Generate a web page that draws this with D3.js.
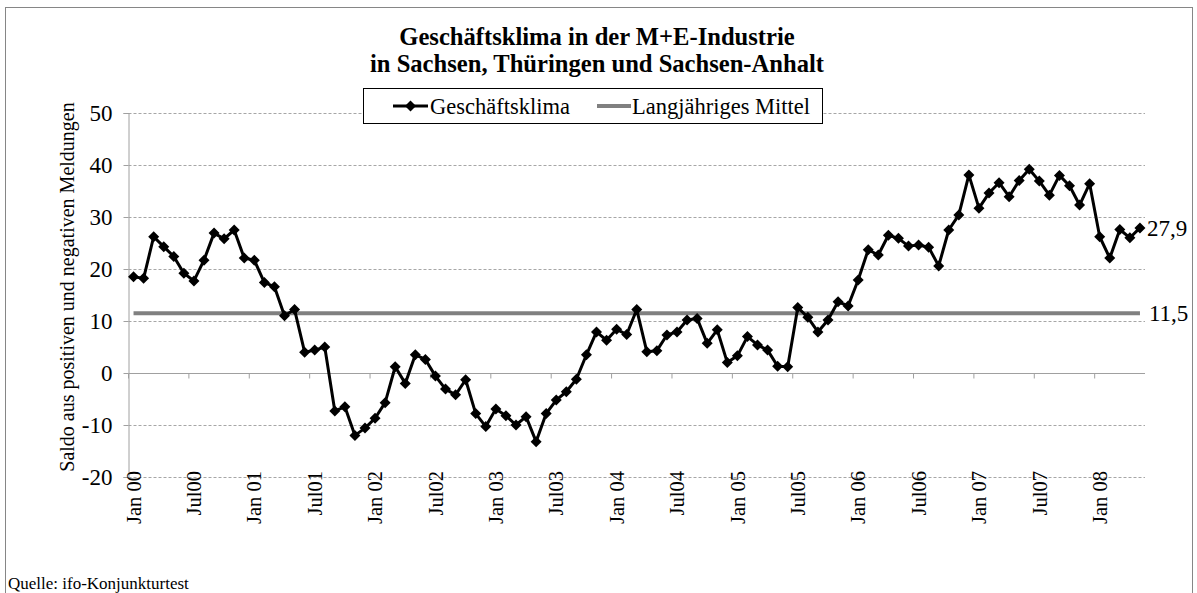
<!DOCTYPE html>
<html>
<head>
<meta charset="utf-8">
<script src="https://cdn.jsdelivr.net/npm/d3@7"></script>
<style>
  body { margin: 0; background: #fff; }
  text { font-family: "Liberation Serif", "Times New Roman", serif; fill: #000; }
</style>
</head>
<body>
<div id="chart"></div>
<script>
// Monatswerte Jan 2000 - Mai 2008
const startMonth = new Date(2000, 0, 1);
const endMonth = new Date(2008, 5, 1);
const klima = [
  18.5, 18.2, 26.2, 24.3, 22.4, 19.2, 17.7, 21.7, 26.9, 25.8, 27.5, 22.1,
  21.7, 17.4, 16.6, 11.0, 12.2, 4.0, 4.4, 5.0, -7.3, -6.5, -12.0, -10.6,
  -8.7, -5.7, 1.2, -2.0, 3.5, 2.6, -0.6, -3.1, -4.2, -1.3, -7.8, -10.3,
  -6.9, -8.2, -10.0, -8.4, -13.2, -7.8, -5.2, -3.6, -1.2, 3.5, 7.9, 6.3,
  8.4, 7.4, 12.2, 4.1, 4.3, 7.3, 7.9, 10.2, 10.5, 5.7, 8.3, 2.0,
  3.3, 7.0, 5.4, 4.4, 1.3, 1.2, 12.6, 10.7, 7.9, 10.2, 13.7, 12.9,
  17.9, 23.7, 22.7, 26.5, 25.9, 24.4, 24.6, 24.2, 20.6, 27.5, 30.4, 38.1,
  31.7, 34.6, 36.6, 33.9, 37.0, 39.2, 36.9, 34.2, 38.0, 36.0, 32.3, 36.4,
  26.2, 22.1, 27.6, 26.0, 27.9
];
const mittel = 11.5;
const yTicks = [-20, -10, 0, 10, 20, 30, 40, 50];
const xTickLabels = ["Jan 00", "Jul00", "Jan 01", "Jul01", "Jan 02", "Jul02", "Jan 03", "Jul03",
  "Jan 04", "Jul04", "Jan 05", "Jul05", "Jan 06", "Jul06", "Jan 07", "Jul07", "Jan 08"];

const width = 1197, height = 593;
const plotLeft = 128.5, plotRight = 1145, plotTop = 113, plotBottom = 477;

const months = d3.timeMonths(startMonth, endMonth).map(d3.timeFormat("%Y-%m"));

const svg = d3.select("#chart").append("svg")
  .attr("width", width).attr("height", height);

// Rahmen
svg.append("rect")
  .attr("x", 5.5).attr("y", 7.5).attr("width", 1187).attr("height", 620)
  .attr("fill", "none").attr("stroke", "#868686");

const x = d3.scaleBand().domain(months).range([plotLeft, plotRight]).padding(0);
const y = d3.scaleLinear().domain([-20, 50]).range([plotBottom, plotTop]);
const cx = i => x(months[i]) + x.bandwidth() / 2;

// Gitterlinien
svg.append("g").selectAll("line")
  .data(yTicks.filter(d => d !== 0))
  .enter().append("line")
  .attr("x1", plotLeft).attr("x2", plotRight)
  .attr("y1", d => Math.round(y(d)) + 0.5).attr("y2", d => Math.round(y(d)) + 0.5)
  .attr("stroke", "#a6a6a6").attr("stroke-dasharray", "3,2");

// Y-Achse
const yAxis = svg.append("g")
  .attr("transform", `translate(${plotLeft},0)`)
  .call(d3.axisLeft(y).tickValues(yTicks).tickSize(5).tickPadding(11).tickFormat(d => d));
yAxis.select(".domain").attr("stroke", "#a0a0a0");
yAxis.selectAll(".tick line").attr("stroke", "#a0a0a0");
yAxis.selectAll(".tick text").style("font-size", "23px").style("font-family", "Liberation Serif").attr("fill", "#000");

// X-Achse bei 0
const y0 = Math.round(y(0)) + 0.5;
svg.append("line")
  .attr("x1", plotLeft).attr("x2", plotRight).attr("y1", y0).attr("y2", y0)
  .attr("stroke", "#a0a0a0");
svg.append("g").selectAll("line")
  .data(xTickLabels)
  .enter().append("line")
  .attr("x1", (d, k) => x(months[k * 6])).attr("x2", (d, k) => x(months[k * 6]))
  .attr("y1", y0).attr("y2", y0 + 5)
  .attr("stroke", "#a0a0a0");

svg.append("g").selectAll("text")
  .data(xTickLabels)
  .enter().append("text")
  .attr("transform", (d, k) => `translate(${cx(k * 6)},471) rotate(-90)`)
  .attr("dy", "0.35em")
  .attr("text-anchor", "end")
  .style("font-size", "20.5px")
  .text(d => d);

// Langjähriges Mittel
svg.append("line")
  .attr("x1", cx(0)).attr("x2", cx(klima.length - 1))
  .attr("y1", y(mittel)).attr("y2", y(mittel))
  .attr("stroke", "#808080").attr("stroke-width", 4);

// Geschäftsklima
const line = d3.line().x((d, i) => cx(i)).y(d => y(d));
svg.append("path")
  .datum(klima)
  .attr("d", line)
  .attr("fill", "none").attr("stroke", "#000").attr("stroke-width", 3)
  .attr("stroke-linejoin", "round");

const diamond = "M0,-5.5L5.5,0L0,5.5L-5.5,0Z";
svg.append("g").selectAll("path")
  .data(klima)
  .enter().append("path")
  .attr("d", diamond)
  .attr("transform", (d, i) => `translate(${cx(i)},${y(d)})`)
  .attr("fill", "#000");

// Datenbeschriftungen
const last = klima.length - 1;
svg.append("text")
  .attr("x", cx(last) + 7).attr("y", y(klima[last])).attr("dy", "0.35em")
  .style("font-size", "23px").text("27,9");
svg.append("text")
  .attr("x", cx(last) + 9).attr("y", y(mittel)).attr("dy", "0.35em")
  .style("font-size", "23px").text("11,5");

// Titel
svg.append("text").attr("x", 597).attr("y", 45).attr("text-anchor", "middle")
  .style("font-size", "24.6px").style("font-weight", "bold")
  .text("Geschäftsklima in der M+E-Industrie");
svg.append("text").attr("x", 597).attr("y", 72).attr("text-anchor", "middle")
  .style("font-size", "24.6px").style("font-weight", "bold")
  .text("in Sachsen, Thüringen und Sachsen-Anhalt");

// Legende
const lg = svg.append("g");
lg.append("rect").attr("x", 363.5).attr("y", 88.5).attr("width", 459).attr("height", 35)
  .attr("fill", "#fff").attr("stroke", "#000");
lg.append("line").attr("x1", 393).attr("x2", 428).attr("y1", 106).attr("y2", 106)
  .attr("stroke", "#000").attr("stroke-width", 3);
lg.append("path").attr("d", diamond).attr("transform", "translate(410.5,106)").attr("fill", "#000");
lg.append("text").attr("x", 430).attr("y", 106).attr("dy", "0.35em")
  .style("font-size", "22.5px").text("Geschäftsklima");
lg.append("line").attr("x1", 597).attr("x2", 631).attr("y1", 106).attr("y2", 106)
  .attr("stroke", "#808080").attr("stroke-width", 4);
lg.append("text").attr("x", 632).attr("y", 106).attr("dy", "0.35em")
  .style("font-size", "22.5px").text("Langjähriges Mittel");

// Achsentitel
svg.append("text")
  .attr("transform", "translate(67,287) rotate(-90)")
  .attr("text-anchor", "middle").attr("dy", "0.35em")
  .style("font-size", "20px")
  .text("Saldo aus positiven und negativen Meldungen");

// Quelle
svg.append("text").attr("x", 8).attr("y", 589)
  .style("font-size", "17px").text("Quelle: ifo-Konjunkturtest");
</script>
</body>
</html>
